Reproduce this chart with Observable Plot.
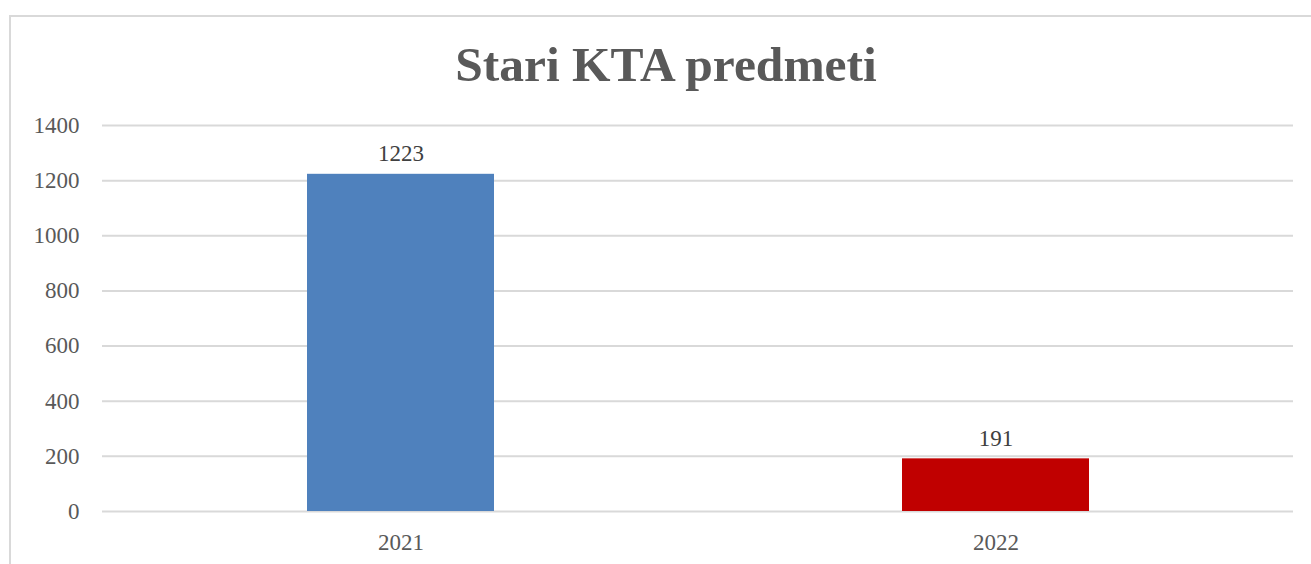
<!DOCTYPE html>
<html>
<head>
<meta charset="utf-8">
<script src="https://cdn.jsdelivr.net/npm/d3@7"></script>
<script src="https://cdn.jsdelivr.net/npm/@observablehq/plot@0.6"></script>
<style>
  html, body { margin: 0; padding: 0; background: #fff; }
  #wrap { position: relative; width: 1311px; height: 564px; overflow: hidden; }
  #frame { position: absolute; left: 9px; top: 15px; width: 1400px; height: 700px; border: 2px solid #d9d9d9; box-sizing: border-box; }
  #title { position: relative; height: 105px; box-sizing: border-box; padding-top: 40px; padding-left: 21px; text-align: center; font-family: "Liberation Serif", serif; font-weight: bold; font-size: 49.5px; color: #595959; line-height: 1; }
  #chart { position: relative; }
</style>
</head>
<body>
<div id="wrap">
  <div id="frame"></div>
  <div id="title">Stari KTA predmeti</div>
  <div id="chart"></div>
</div>
<script>
const years = ["2021", "2022"];
const counts = [1223, 191];
const barColors = ["#4F81BD", "#C00000"];
const yTicks = [0, 200, 400, 600, 800, 1000, 1200, 1400];

const data = years.map((y, i) => ({year: y, value: counts[i], color: barColors[i]}));

const chart = Plot.plot({
  width: 1311,
  height: 459,
  marginTop: 20,
  marginBottom: 53,
  marginLeft: 102,
  marginRight: 18,
  style: {fontFamily: "'Liberation Serif', serif", fontSize: "23px", color: "#595959", background: "transparent"},
  x: {domain: years, paddingInner: 0.686, paddingOuter: 0.343, label: null, tickSize: 0, tickPadding: 22},
  y: {domain: [0, 1400], ticks: yTicks, tickFormat: d => String(d), label: null, tickSize: 0, tickPadding: 23},
  marks: [
    Plot.gridY(yTicks, {stroke: "#d9d9d9", strokeOpacity: 1, strokeWidth: 2}),
    Plot.barY(data, {x: "year", y: "value", fill: "color"}),
    Plot.text(data, {x: "year", y: "value", text: d => String(d.value), lineAnchor: "bottom", dy: -13, fill: "#404040", fontSize: 23})
  ]
});
document.getElementById("chart").appendChild(chart);
</script>
</body>
</html>
